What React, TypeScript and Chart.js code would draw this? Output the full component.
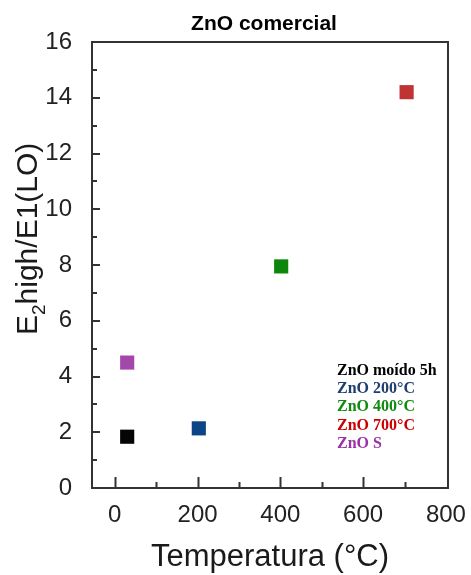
import React, { useEffect, useRef } from "react";
import { Chart, registerables } from "chart.js";

Chart.register(...registerables);

const seriesNames = ["ZnO moído 5h", "ZnO 200°C", "ZnO 400°C", "ZnO 700°C", "ZnO S"];
const temperatures = [30, 203, 402, 705, 30];
const ratios = [1.84, 2.14, 7.95, 14.2, 4.5];
const markerColors = ["#050505", "#0b4586", "#0c870c", "#c03333", "#a447ab"];
const legendColors = ["#000000", "#1f3d6e", "#108a10", "#cc0000", "#9b30a8"];
const xTicks = [0, 200, 400, 600, 800];
const xMinorTicks = [100, 300, 500, 700];
const yTicks = [0, 2, 4, 6, 8, 10, 12, 14, 16];
const yMinorTicks = [1, 3, 5, 7, 9, 11, 13, 15];
const chartTitle = "ZnO comercial";
const xTitle = "Temperatura (°C)";

const SANS = '"Liberation Sans", Arial, sans-serif';
const SERIF = '"Liberation Serif", "Times New Roman", serif';

const decorPlugin = {
  id: "decor",
  afterDraw(chart: any) {
    const ctx = chart.ctx;
    const area = chart.chartArea;
    const xs = chart.scales.x;
    const ys = chart.scales.y;
    ctx.save();
    ctx.strokeStyle = "#333333";
    ctx.lineWidth = 2;
    ctx.strokeRect(area.left, area.top, area.right - area.left, area.bottom - area.top);
    ctx.beginPath();
    for (const v of xTicks) {
      const px = Math.round(xs.getPixelForValue(v)) + 0.5;
      if (px > area.right - 3) continue;
      ctx.moveTo(px, area.bottom);
      ctx.lineTo(px, area.bottom - 11);
    }
    for (const v of xMinorTicks) {
      const px = Math.round(xs.getPixelForValue(v)) + 0.5;
      ctx.moveTo(px, area.bottom);
      ctx.lineTo(px, area.bottom - 6);
    }
    for (const v of yTicks) {
      const py = Math.round(ys.getPixelForValue(v));
      ctx.moveTo(area.left, py);
      ctx.lineTo(area.left + 8, py);
    }
    for (const v of yMinorTicks) {
      const py = Math.round(ys.getPixelForValue(v));
      ctx.moveTo(area.left, py);
      ctx.lineTo(area.left + 5, py);
    }
    ctx.stroke();

    ctx.fillStyle = "#000000";
    ctx.font = `bold 21px ${SANS}`;
    ctx.textAlign = "center";
    ctx.textBaseline = "middle";
    ctx.fillText(chartTitle, (area.left + area.right) / 2 - 6, 24);

    ctx.fillStyle = "#1a1a1a";
    ctx.font = `31px ${SANS}`;
    ctx.fillText(xTitle, (area.left + area.right) / 2, 557);

    ctx.save();
    ctx.translate(37, 335);
    ctx.rotate(-Math.PI / 2);
    ctx.textAlign = "left";
    ctx.textBaseline = "alphabetic";
    ctx.font = `30px ${SANS}`;
    let x = 0;
    ctx.fillText("E", x, 0);
    x += ctx.measureText("E").width;
    ctx.font = `19px ${SANS}`;
    ctx.fillText("2", x, 8);
    x += ctx.measureText("2").width;
    ctx.font = `30px ${SANS}`;
    ctx.fillText("high/E1(LO)", x, 0);
    ctx.restore();

    ctx.font = `bold 16px ${SERIF}`;
    ctx.textAlign = "left";
    ctx.textBaseline = "middle";
    const lineY = [371, 389, 407, 426, 444];
    seriesNames.forEach((name, i) => {
      ctx.fillStyle = legendColors[i];
      ctx.fillText(name, 337, lineY[i]);
    });
    ctx.restore();
  },
};

export default function App() {
  const canvasRef = useRef<HTMLCanvasElement | null>(null);

  useEffect(() => {
    document.body.style.margin = "0";
    const canvas = canvasRef.current;
    if (!canvas) return;
    const datasets = seriesNames.map((name, i) => ({
      label: name,
      data: [{ x: temperatures[i], y: ratios[i] }],
      backgroundColor: markerColors[i],
      borderColor: markerColors[i],
      borderWidth: 0,
      pointStyle: "rect",
      pointRadius: 10,
      showLine: false,
    }));
    const tickFont = { family: SANS, size: 24 };
    const chart = new Chart(canvas, {
      type: "scatter",
      data: { datasets: datasets as any },
      options: {
        animation: false,
        responsive: false,
        devicePixelRatio: 1,
        layout: { padding: { left: 0, top: 42, right: 23, bottom: 0 } },
        plugins: {
          legend: { display: false },
          tooltip: { enabled: false },
          title: { display: false },
        },
        scales: {
          x: {
            type: "linear",
            min: -55,
            max: 805,
            grid: { display: false },
            border: { display: false },
            ticks: {
              font: tickFont,
              color: "#222222",
              padding: 5,
              autoSkip: false,
              maxRotation: 0,
            },
            afterBuildTicks: (s: any) => {
              s.ticks = xTicks.map((v) => ({ value: v }));
            },
            afterFit: (s: any) => {
              s.height = 87;
              s.paddingLeft = 0;
              s.paddingRight = 0;
            },
          },
          y: {
            type: "linear",
            min: 0,
            max: 16,
            grid: { display: false },
            border: { display: false },
            ticks: {
              font: tickFont,
              color: "#222222",
              padding: 12,
              autoSkip: false,
            },
            afterBuildTicks: (s: any) => {
              s.ticks = yTicks.map((v) => ({ value: v }));
            },
            afterFit: (s: any) => {
              s.width = 92;
              s.paddingTop = 0;
              s.paddingBottom = 0;
            },
          },
        },
      },
      plugins: [decorPlugin],
    });
    return () => chart.destroy();
  }, []);

  return (
    <canvas
      ref={canvasRef}
      width={471}
      height={575}
      style={{ display: "block", width: 471, height: 575 }}
    />
  );
}
